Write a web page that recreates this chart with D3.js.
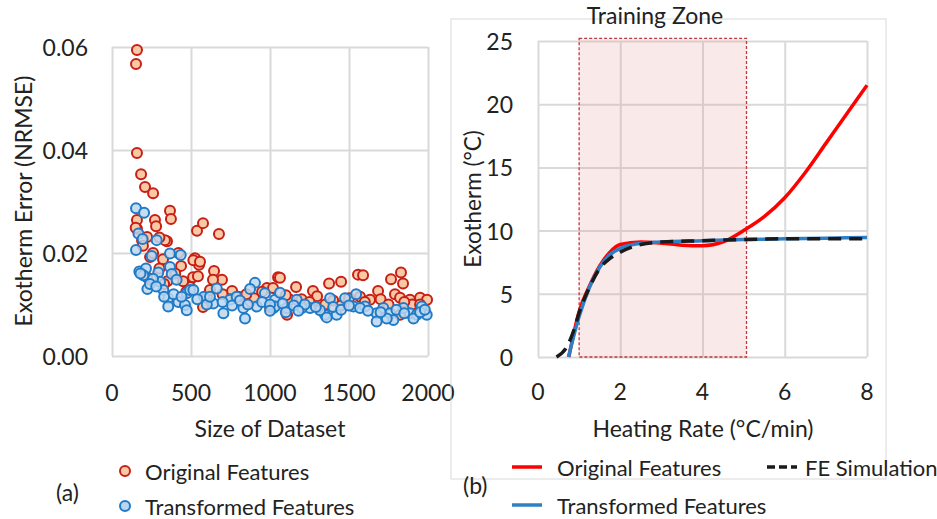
<!DOCTYPE html>
<html>
<head>
<meta charset="utf-8">
<script src="https://d3js.org/d3.v7.min.js"></script>
<style>
  body { margin: 0; background: #fff; }
  svg text { font-family: Lato, "Open Sans", sans-serif; fill: #222; }
</style>
</head>
<body>
<div id="chart"></div>
<script>
// ---- data: (a) error vs size of dataset ----
const originalPts = [
  [158,0.0594],[152,0.0567],[158,0.0394],[184,0.0353],[209,0.0328],[260,0.0316],[367,0.0282],[373,0.0266],
  [272,0.0264],[158,0.0264],[279,0.0252],[158,0.0247],[538,0.0243],[576,0.0258],[677,0.0237],[348,0.0223],
  [222,0.0231],[150,0.0249],[190,0.0225],[196,0.0214],[241,0.0192],[323,0.0188],[335,0.0225],[222,0.0153],
  [437,0.0175],[525,0.0190],[513,0.0153],[494,0.0134],[551,0.0177],[544,0.0155],[515,0.0186],[557,0.0183],
  [646,0.0165],[696,0.0148],[639,0.0148],[760,0.0126],[601,0.0115],[576,0.0095],[1051,0.0153],[981,0.0132],
  [874,0.0105],[1000,0.0095],[1063,0.0152],[1165,0.0134],[1019,0.0132],[1272,0.0126],[1298,0.0116],[1374,0.0141],
  [1450,0.0144],[1127,0.0109],[1317,0.0093],[1108,0.0080],[1557,0.0158],[1589,0.0157],[1766,0.0149],[1829,0.0162],
  [1842,0.0141],[1684,0.0126],[1791,0.0120],[1823,0.0113],[1886,0.0109],[1950,0.0113],[1994,0.0109],[1570,0.0115],
  [1633,0.0109],[1823,0.0080],[1741,0.0099],[300,0.0170],[400,0.0160],[450,0.0145],[350,0.0145],[700,0.0120],
  [800,0.0115],[900,0.0112],[1200,0.0110],[1400,0.0108],[1500,0.0112],[1700,0.0110],[1900,0.0100],[620,0.0128],
  [420,0.0200],[260,0.0200],[300,0.0230],[330,0.0140],[470,0.0125],[750,0.0110],[850,0.0120],[950,0.0125],
  [1100,0.0118],[1250,0.0105],[1350,0.0100],[1450,0.0098],[1600,0.0105],[1750,0.0100],[1850,0.0105],[1950,0.0100]
];
const transformedPts = [
  [152,0.0287],[203,0.0278],[167,0.0238],[194,0.0227],[152,0.0206],[283,0.0225],[251,0.0194],[367,0.0199],
  [435,0.0196],[173,0.0164],[215,0.0170],[224,0.0130],[293,0.0162],[304,0.0144],[367,0.0173],[378,0.0159],
  [409,0.0148],[325,0.0128],[356,0.0112],[420,0.0105],[462,0.0099],[473,0.0122],[494,0.0128],[198,0.0157],
  [905,0.0142],[874,0.0130],[968,0.0122],[515,0.0128],[582,0.0115],[663,0.0131],[641,0.0102],[705,0.0083],
  [747,0.0109],[831,0.0093],[842,0.0073],[916,0.0096],[789,0.0115],[1021,0.0093],[1032,0.0109],[1063,0.0123],
  [1169,0.0109],[1032,0.0096],[1106,0.0093],[1253,0.0093],[1380,0.0112],[1348,0.0080],[1422,0.0080],[1475,0.0112],
  [1528,0.0096],[1201,0.0093],[1317,0.0089],[1545,0.0120],[1601,0.0096],[1675,0.0083],[1675,0.0067],[1717,0.0093],
  [1760,0.0083],[1886,0.0083],[1960,0.0096],[1992,0.0080],[1929,0.0080],[1844,0.0093],[1781,0.0070],[1739,0.0073],
  [356,0.0096],[473,0.0089],[1908,0.0073],[1359,0.0075],[260,0.0150],[240,0.0140],[330,0.0115],[390,0.0120],
  [440,0.0115],[280,0.0135],[180,0.0160],[540,0.0110],[600,0.0100],[620,0.0115],[700,0.0105],[760,0.0098],
  [810,0.0108],[860,0.0100],[950,0.0105],[1000,0.0100],[1080,0.0102],[1150,0.0098],[1220,0.0100],[1290,0.0095],
  [1400,0.0095],[1450,0.0090],[1500,0.0098],[1570,0.0093],[1620,0.0088],[1700,0.0085],[1800,0.0090],[1850,0.0083],
  [1950,0.0085],[1980,0.0090],[1100,0.0085],[1000,0.0088],[1180,0.0088]
];
const sizeTicks = [0, 500, 1000, 1500, 2000];
const errorTicks = [0, 0.02, 0.04, 0.06];

// ---- data: (b) exotherm vs heating rate ----
const origRate = [0.75,1.0,1.25,1.5,1.75,2.0,2.5,3.0,3.5,4.0,4.5,5.0,5.5,6.0,6.5,7.0,7.5,8.0];
const origExo  = [0,3.6,5.6,7.2,8.3,8.9,9.1,9.0,8.85,8.8,9.1,10.0,11.1,12.6,14.6,16.9,19.2,21.5];
const transRate = [0.74,1.0,1.25,1.5,1.75,2.0,2.5,3.0,4.0,5.0,6.0,7.0,8.0];
const transExo  = [0,3.2,5.5,7.1,8.1,8.6,9.0,9.1,9.2,9.3,9.35,9.4,9.45];
const feRate = [0.45,0.7,0.9,1.0,1.25,1.5,1.75,2.0,2.5,3.0,4.0,5.0,6.0,7.0,7.9];
const feExo  = [0,0.8,2.4,3.5,5.5,7.0,7.8,8.3,8.9,9.1,9.2,9.3,9.35,9.35,9.35];
const trainingZone = [1, 5.07];
const rateTicks = [0, 2, 4, 6, 8];
const exoTicks = [0, 5, 10, 15, 20, 25];

const W = 937, H = 519;
const svg = d3.select("#chart").append("svg").attr("width", W).attr("height", H);
svg.append("rect").attr("width", W).attr("height", H).attr("fill", "#fff");

const gridColor = "#d9d9d9";
const fs = 23;

// ================= (a) =================
const xA = d3.scaleLinear().domain([0, 2000]).range([112, 428]);
const yA = d3.scaleLinear().domain([0, 0.06]).range([356, 47]);
const gA = svg.append("g");

gA.append("g").attr("transform", `translate(0,${yA(0)})`)
  .call(d3.axisBottom(xA).tickValues(sizeTicks).tickSize(-(yA(0) - yA(0.06))).tickFormat(""))
  .call(g => g.select(".domain").remove())
  .call(g => g.selectAll("line").attr("stroke", gridColor).attr("stroke-width", 2));
gA.append("g").attr("transform", `translate(${xA(0)},0)`)
  .call(d3.axisLeft(yA).tickValues(errorTicks).tickSize(-(xA(2000) - xA(0))).tickFormat(""))
  .call(g => g.select(".domain").remove())
  .call(g => g.selectAll("line").attr("stroke", gridColor).attr("stroke-width", 2));

gA.selectAll(".xlab").data(sizeTicks).join("text")
  .attr("x", d => xA(d)).attr("y", 392).attr("text-anchor", "middle")
  .attr("dominant-baseline", "central").attr("font-size", fs).text(d => d);
gA.selectAll(".ylab").data(errorTicks).join("text")
  .attr("x", 88).attr("y", d => yA(d)).attr("text-anchor", "end")
  .attr("dominant-baseline", "central").attr("font-size", fs).text(d => d3.format(".2f")(d));

gA.append("text").attr("x", 270).attr("y", 428).attr("text-anchor", "middle")
  .attr("dominant-baseline", "central").attr("font-size", fs).text("Size of Dataset");
gA.append("text").attr("transform", "translate(23,201) rotate(-90)").attr("text-anchor", "middle")
  .attr("dominant-baseline", "central").attr("font-size", fs).text("Exotherm Error (NRMSE)");

const redStroke = "#c81e14", redFill = "#f9c9a6";
const blueStroke = "#1f7bc8", blueFill = "#bcd6ef";

gA.append("g").selectAll("circle").data(originalPts).join("circle")
  .attr("cx", d => xA(d[0])).attr("cy", d => yA(d[1])).attr("r", 5)
  .attr("fill", redFill).attr("stroke", redStroke).attr("stroke-width", 2);
gA.append("g").selectAll("circle").data(transformedPts).join("circle")
  .attr("cx", d => xA(d[0])).attr("cy", d => yA(d[1])).attr("r", 5)
  .attr("fill", blueFill).attr("fill-opacity", 0.85).attr("stroke", blueStroke).attr("stroke-width", 2);

// legend (a)
const legA = [["Original Features", redFill, redStroke, 471], ["Transformed Features", blueFill, blueStroke, 506]];
legA.forEach(([label, fill, stroke, y]) => {
  gA.append("circle").attr("cx", 125).attr("cy", y).attr("r", 5)
    .attr("fill", fill).attr("stroke", stroke).attr("stroke-width", 2);
  gA.append("text").attr("x", 145).attr("y", y).attr("dominant-baseline", "central")
    .attr("font-size", 22).text(label);
});
gA.append("text").attr("x", 56).attr("y", 492).attr("dominant-baseline", "central")
  .attr("font-size", fs).text("(a)");

// ================= (b) =================
const gB = svg.append("g");
gB.append("rect").attr("x", 451).attr("y", 19).attr("width", 435).attr("height", 460)
  .attr("fill", "none").attr("stroke", "#d9d9d9").attr("stroke-width", 1);

const xB = d3.scaleLinear().domain([0, 8]).range([538, 867]);
const yB = d3.scaleLinear().domain([0, 25]).range([357, 41]);

gB.append("g").attr("transform", `translate(0,${yB(0)})`)
  .call(d3.axisBottom(xB).tickValues(rateTicks).tickSize(-(yB(0) - yB(25))).tickFormat(""))
  .call(g => g.select(".domain").remove())
  .call(g => g.selectAll("line").attr("stroke", gridColor).attr("stroke-width", 2));
gB.append("g").attr("transform", `translate(${xB(0)},0)`)
  .call(d3.axisLeft(yB).tickValues(exoTicks).tickSize(-(xB(8) - xB(0))).tickFormat(""))
  .call(g => g.select(".domain").remove())
  .call(g => g.selectAll("line").attr("stroke", gridColor).attr("stroke-width", 2));

gB.append("rect")
  .attr("x", xB(trainingZone[0])).attr("y", yB(25.2))
  .attr("width", xB(trainingZone[1]) - xB(trainingZone[0])).attr("height", yB(0) - yB(25.2))
  .attr("fill", "#e29c9c").attr("fill-opacity", 0.22)
  .attr("stroke", "#c0393b").attr("stroke-width", 1.3).attr("stroke-dasharray", "3,2");

gB.selectAll(".xlab").data(rateTicks).join("text")
  .attr("x", d => xB(d)).attr("y", 391).attr("text-anchor", "middle")
  .attr("dominant-baseline", "central").attr("font-size", fs).text(d => d);
gB.selectAll(".ylab").data(exoTicks).join("text")
  .attr("x", 513).attr("y", d => yB(d)).attr("text-anchor", "end")
  .attr("dominant-baseline", "central").attr("font-size", fs).text(d => d);

gB.append("text").attr("x", 703).attr("y", 428).attr("text-anchor", "middle")
  .attr("dominant-baseline", "central").attr("font-size", fs).text("Heating Rate (°C/min)");
gB.append("text").attr("transform", "translate(472,199) rotate(-90)").attr("text-anchor", "middle")
  .attr("dominant-baseline", "central").attr("font-size", 22.5).text("Exotherm (°C)");
gB.append("text").attr("x", 655).attr("y", 15).attr("text-anchor", "middle")
  .attr("dominant-baseline", "central").attr("font-size", fs).text("Training Zone");

const line = d3.line().x(d => xB(d[0])).y(d => yB(d[1])).curve(d3.curveMonotoneX);
const zip = (a, b) => a.map((v, i) => [v, b[i]]);

gB.append("path").attr("d", line(zip(origRate, origExo)))
  .attr("fill", "none").attr("stroke", "#ff0000").attr("stroke-width", 3.5);
gB.append("path").attr("d", line(zip(transRate, transExo)))
  .attr("fill", "none").attr("stroke", "#2f7fc4").attr("stroke-width", 3.5);
gB.append("path").attr("d", line(zip(feRate, feExo)))
  .attr("fill", "none").attr("stroke", "#1a1a1a").attr("stroke-width", 3.5)
  .attr("stroke-dasharray", "13,8");

// legend (b)
const legB = [
  ["Original Features", "#ff0000", null, 512, 467, 45],
  ["Transformed Features", "#2f7fc4", null, 512, 505, 45],
  ["FE Simulation", "#1a1a1a", "8,4", 767, 467, 38]
];
legB.forEach(([label, color, dash, x, y, gap]) => {
  gB.append("line").attr("x1", x).attr("x2", x + 30).attr("y1", y).attr("y2", y)
    .attr("stroke", color).attr("stroke-width", 3.5).attr("stroke-dasharray", dash);
  gB.append("text").attr("x", x + gap).attr("y", y).attr("dominant-baseline", "central")
    .attr("font-size", 22).text(label);
});
gB.append("text").attr("x", 463).attr("y", 485).attr("dominant-baseline", "central")
  .attr("font-size", fs).text("(b)");
</script>
</body>
</html>
